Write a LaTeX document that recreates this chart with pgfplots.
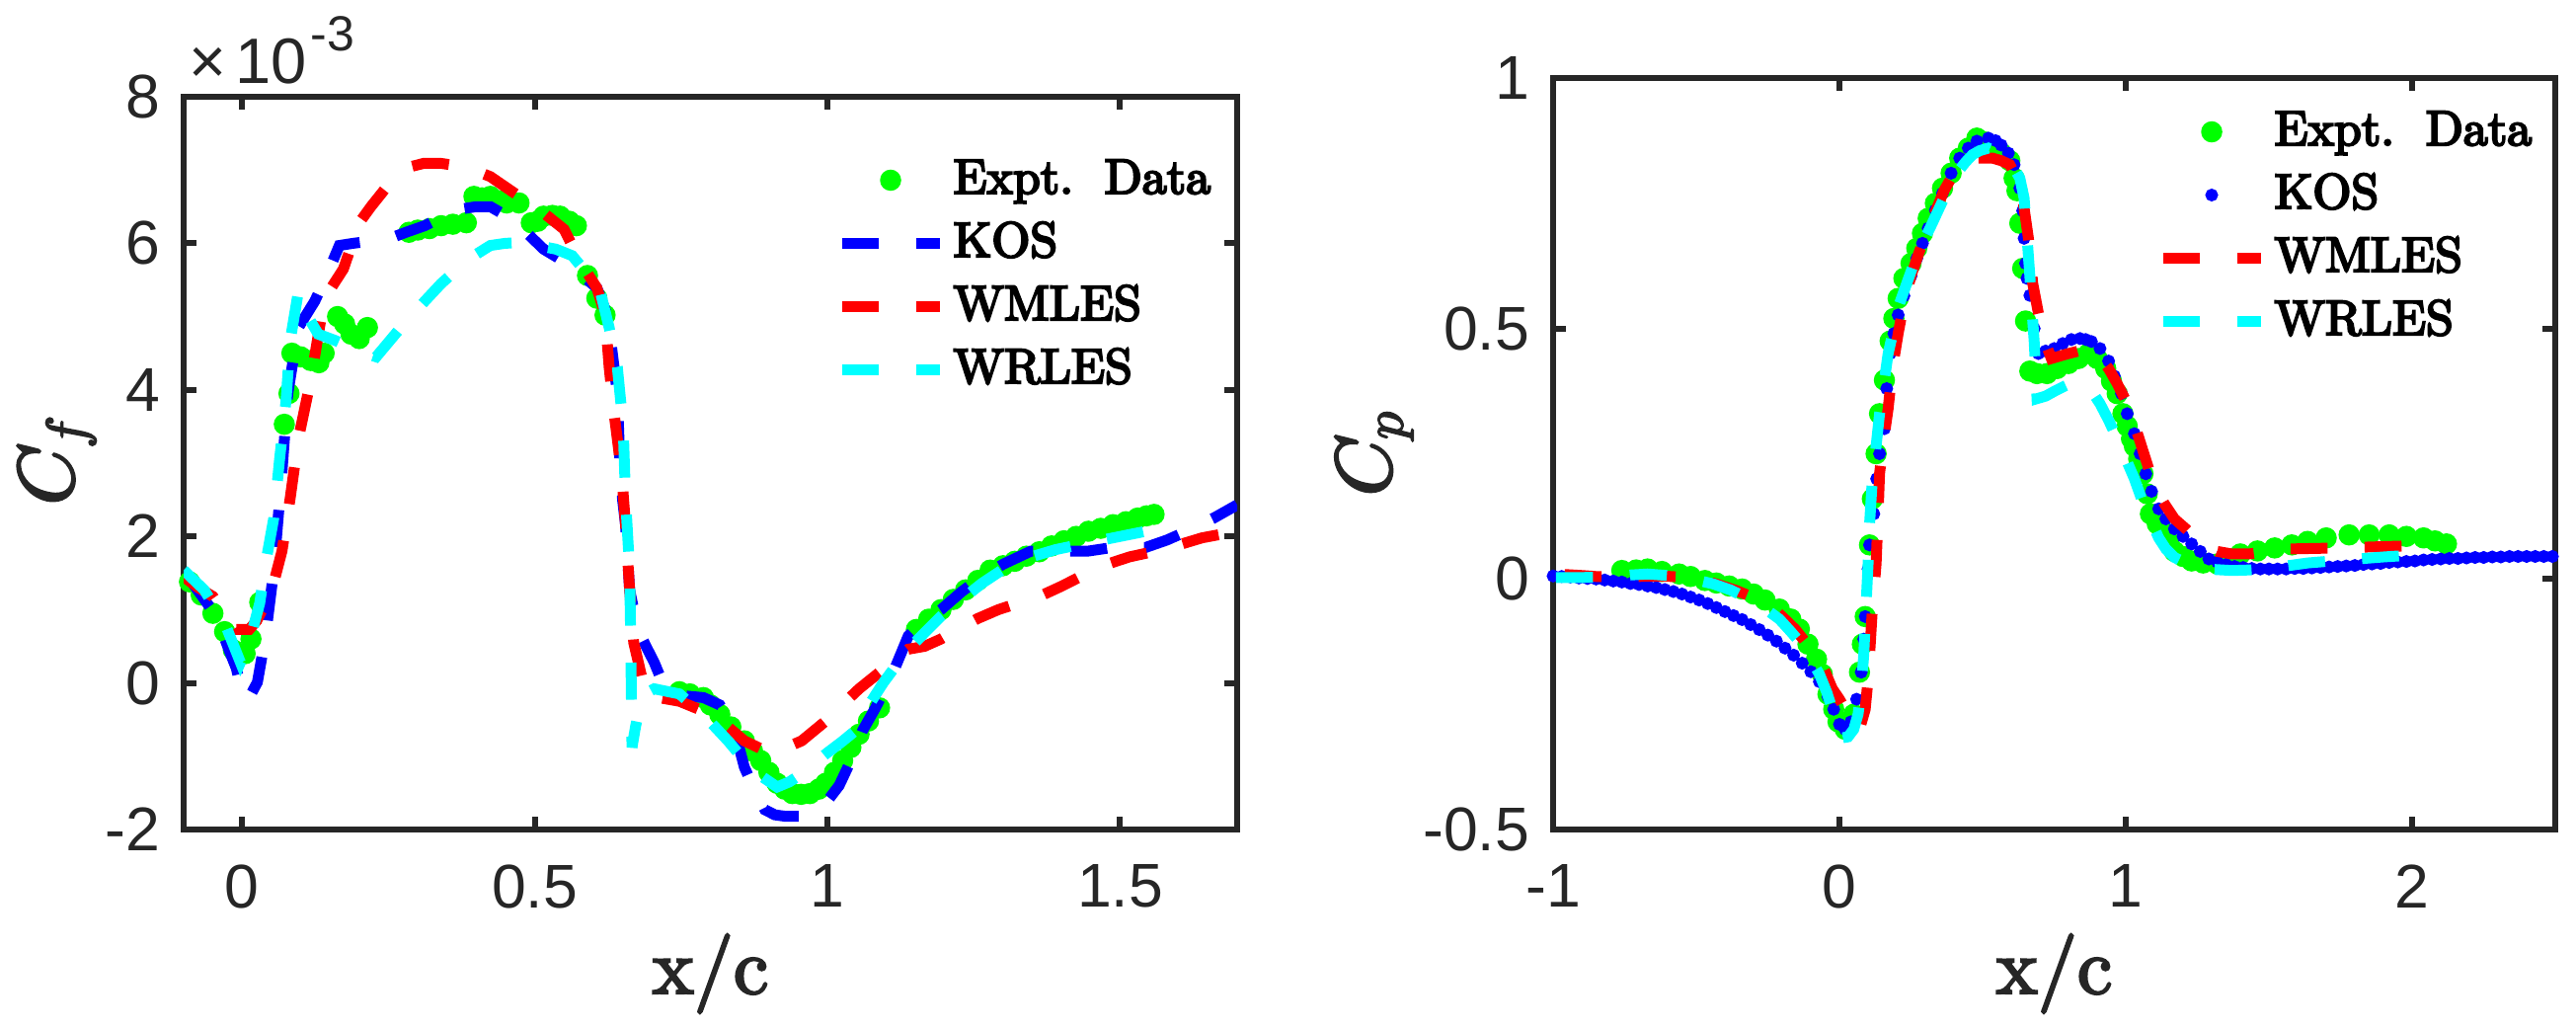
\documentclass[border=0pt]{standalone}
\usepackage{pgfplots}
\pgfplotsset{compat=1.18}
\usepackage{fontspec}
\newfontfamily\helv{Liberation Sans}
\newfontfamily\lmten{lmroman10-regular.otf}[FakeBold=3]
\newfontfamily\lmleg{lmroman10-regular.otf}[FakeBold=4.5]
\newfontfamily\lmmath{latinmodern-math.otf}[FakeBold=3]
\definecolor{axgray}{RGB}{38,38,38}
\definecolor{mgreen}{RGB}{0,255,0}
\definecolor{mblue}{RGB}{0,0,255}
\definecolor{mred}{RGB}{255,0,0}
\definecolor{mcyan}{RGB}{0,255,255}
\pgfplotsset{
 mystyle/.style={
  scale only axis, anchor=south west, clip mode=individual,
  axis line style={axgray, line width=1.2pt},
  tick style={axgray, line width=1.2pt},
  major tick length=2.6pt, tick align=inside,
  tick label style={font=\helv\fontsize{12.5}{14}\selectfont, text=axgray},
  /pgf/number format/assume math mode=true,
  xticklabel style={inner sep=0pt, anchor=north, yshift=-7pt},
  yticklabel style={inner sep=0pt, anchor=east, xshift=-4.6pt},
  label style={font=\lmten\fontsize{16}{18}\selectfont, text=axgray},
  legend style={draw=none, fill=none, inner sep=0pt, outer sep=0pt, row sep=0pt, anchor=north west,
    font=\lmleg\fontsize{10}{12}\selectfont,
    nodes={inner sep=0pt, text height=9.1pt, text depth=3.7pt, font=\lmleg\fontsize{10}{12}\selectfont},
    /tikz/every odd column/.append style={column sep=1.7pt}},
  legend cell align=left,
  legend image code/.code={\path (0pt,0pt) (19.8pt,0pt); \draw[mark repeat=2, mark phase=2, ##1] plot coordinates {(0pt,0pt) (9.9pt,0pt) (19.8pt,0pt)};},
 },
 dline/.style={line width=2.2pt, dash pattern=on 7.5pt off 7.5pt, mark=none},
 expt/.style={only marks, mark=*, mark size=1.95pt, mgreen, mark options={draw=mgreen, fill=mgreen}},
}
\newcommand\mysub[2]{{\lmmath #1}\raisebox{-2.4pt}{\lmmath\fontsize{11.2}{12}\selectfont #2}}
\begin{document}
\begin{tikzpicture}
%%%%%%%%%%%%%%%% LEFT: Cf
\begin{axis}[mystyle, at={(37.2pt,40.2pt)}, width=213.4pt, height=148.4pt,
  xmin=-0.1, xmax=1.7, ymin=-2, ymax=8,
  xtick={0,0.5,1,1.5}, ytick={-2,0,2,4,6,8},
  xlabel={x/c}, ylabel={\mysub{𝐶}{𝑓}},
  x label style={at={(axis description cs:0.5,-0.22372)}, anchor=base},
  y label style={at={(axis description cs:-0.10497,0.5)}, anchor=base},
  legend style={at={(axis description cs:0.6195,0.9292)}},
]
\addplot[expt] coordinates {
(-0.09,1.38) (-0.07,1.2) (-0.05,0.95) (-0.03,0.7) (-0.015,0.45) (-0.005,0.37) (0.005,0.4) (0.015,0.6) (0.03,1.1)
(0.072,3.53) (0.08,3.95) (0.085,4.5) (0.1,4.45) (0.117,4.4) (0.131,4.37) (0.14,4.5) (0.163,5.0) (0.175,4.9) (0.186,4.76) (0.2,4.7) (0.214,4.85)
(0.285,6.15) (0.3,6.18) (0.32,6.2) (0.34,6.24) (0.36,6.26) (0.383,6.28) (0.396,6.64) (0.41,6.62) (0.424,6.64) (0.44,6.58) (0.452,6.55) (0.473,6.55) (0.494,6.28) (0.505,6.3) (0.515,6.37) (0.53,6.38) (0.543,6.37) (0.559,6.3) (0.571,6.24) (0.59,5.56) (0.606,5.25) (0.62,5.02)
(0.747,-0.12) (0.765,-0.15) (0.788,-0.2) (0.8,-0.3) (0.816,-0.43) (0.835,-0.6) (0.858,-0.79) (0.872,-0.93) (0.886,-1.06) (0.9,-1.22) (0.914,-1.37) (0.927,-1.45) (0.94,-1.51) (0.955,-1.52) (0.97,-1.51) (0.985,-1.45) (0.997,-1.37) (1.012,-1.22) (1.026,-1.06) (1.04,-0.88) (1.054,-0.70) (1.07,-0.52) (1.089,-0.34)
(1.152,0.73) (1.173,0.87) (1.194,1.0) (1.215,1.14) (1.236,1.27) (1.257,1.4) (1.278,1.54) (1.3,1.6) (1.32,1.66) (1.34,1.73) (1.362,1.79) (1.383,1.87) (1.404,1.94) (1.425,2.0) (1.446,2.07) (1.467,2.11) (1.488,2.16) (1.51,2.2) (1.53,2.25) (1.545,2.28) (1.558,2.3)
};
\addlegendentry{Expt.\hspace{6.3pt}Data}
\addplot[dline, mblue] coordinates {
(-0.093,1.45) (-0.07,1.2) (-0.044,0.91) (-0.023,0.46) (-0.01,0.2) (0.002,-0.22) (0.012,-0.2) (0.026,0.01) (0.04,0.64) (0.054,1.54) (0.068,2.88) (0.078,3.95) (0.096,4.85) (0.124,5.21) (0.145,5.57) (0.166,5.97) (0.19,6.0) (0.22,6.03) (0.25,6.06) (0.28,6.15) (0.312,6.24) (0.34,6.35) (0.368,6.46) (0.4,6.5) (0.424,6.5) (0.45,6.38) (0.48,6.19) (0.515,5.92) (0.54,5.8) (0.564,5.65) (0.59,5.5) (0.606,5.39) (0.62,5.1) (0.627,4.85) (0.634,4.4) (0.641,3.95) (0.645,3.06) (0.65,2.5) (0.655,2.16) (0.662,1.27) (0.676,0.73) (0.69,0.5) (0.704,0.28) (0.718,0.01) (0.747,-0.17) (0.788,-0.2) (0.816,-0.3) (0.84,-0.6) (0.858,-1.15) (0.875,-1.45) (0.893,-1.73) (0.91,-1.8) (0.928,-1.82) (0.956,-1.82) (0.98,-1.75) (0.997,-1.64) (1.02,-1.4) (1.04,-1.06) (1.06,-0.65) (1.082,-0.34) (1.11,0.1) (1.138,0.64) (1.165,0.85) (1.194,1.0) (1.23,1.25) (1.264,1.45) (1.3,1.62) (1.348,1.8) (1.4,1.8) (1.446,1.8) (1.488,1.85) (1.544,1.85) (1.58,1.95) (1.614,2.07) (1.66,2.25) (1.7,2.43)
};
\addlegendentry{KOS}
\addplot[dline, mred] coordinates {
(-0.1,1.45) (-0.075,1.3) (-0.05,1.18) (-0.03,0.95) (-0.01,0.73) (0.012,0.73) (0.025,0.85) (0.04,1.09) (0.055,1.4) (0.068,1.8) (0.082,2.52) (0.096,3.33) (0.117,4.13) (0.134,4.94) (0.152,5.39) (0.173,5.65) (0.2,6.28) (0.22,6.5) (0.243,6.73) (0.265,6.9) (0.285,7.04) (0.31,7.09) (0.34,7.09) (0.383,7.04) (0.424,6.91) (0.466,6.68) (0.508,6.46) (0.55,6.19) (0.578,5.74) (0.606,5.39) (0.62,5.03) (0.627,4.31) (0.634,3.77) (0.648,2.88) (0.655,2.16) (0.662,1.27) (0.669,0.55) (0.69,-0.17) (0.747,-0.25) (0.802,-0.43) (0.83,-0.6) (0.858,-0.79) (0.9,-0.95) (0.93,-0.88) (0.956,-0.79) (0.997,-0.52) (1.025,-0.3) (1.054,-0.08) (1.096,0.19) (1.138,0.46) (1.166,0.5) (1.194,0.6) (1.222,0.73) (1.257,0.88) (1.292,1.0) (1.33,1.1) (1.362,1.18) (1.4,1.32) (1.432,1.45) (1.47,1.6) (1.516,1.72) (1.55,1.78) (1.586,1.85) (1.64,1.98) (1.7,2.07)
};
\addlegendentry{WMLES}
\addplot[dline, mcyan] coordinates {
(-0.1,1.54) (-0.065,1.27) (-0.03,0.82) (-0.003,0.28) (0.012,0.55) (0.03,1.09) (0.04,1.63) (0.054,2.25) (0.064,3.06) (0.075,3.86) (0.082,4.67) (0.096,5.34) (0.11,5.03) (0.13,4.76) (0.16,4.67) (0.186,4.58) (0.21,4.5) (0.229,4.45) (0.25,4.65) (0.271,4.85) (0.312,5.21) (0.34,5.45) (0.368,5.65) (0.4,5.85) (0.424,5.97) (0.45,6.0) (0.48,6.01) (0.51,5.96) (0.536,5.92) (0.564,5.83) (0.592,5.56) (0.613,5.3) (0.627,4.85) (0.641,4.31) (0.651,3.5) (0.655,2.52) (0.662,1.54) (0.664,0.5) (0.666,-0.88) (0.672,-0.6) (0.683,-0.17) (0.704,-0.08) (0.747,-0.15) (0.788,-0.43) (0.83,-0.79) (0.872,-1.19) (0.914,-1.42) (0.935,-1.35) (0.956,-1.24) (0.997,-0.97) (1.025,-0.8) (1.054,-0.61) (1.075,-0.25) (1.096,0.01) (1.138,0.46) (1.194,0.91) (1.264,1.36) (1.3,1.55) (1.348,1.72) (1.39,1.82) (1.432,1.89) (1.488,1.98) (1.544,2.07) (1.6,2.12)
};
\addlegendentry{WRLES}
\node[anchor=base west, inner sep=0pt, text=axgray, font=\helv\fontsize{13}{14}\selectfont] at (axis description cs:0.004,1.0175) {×\hspace{1.8pt}10\hspace{0.8pt}\raisebox{6.6pt}{\fontsize{10}{10}\selectfont -3}};
\end{axis}
%%%%%%%%%%%%%%%% RIGHT: Cp
\begin{axis}[mystyle, at={(314.6pt,40.2pt)}, width=203pt, height=152.2pt,
  xmin=-1, xmax=2.5, ymin=-0.5, ymax=1,
  xtick={-1,0,1,2}, ytick={-0.5,0,0.5,1},
  xlabel={x/c}, ylabel={\mysub{𝐶}{𝑝}},
  x label style={at={(axis description cs:0.5,-0.21813)}, anchor=base},
  y label style={at={(axis description cs:-0.16207,0.5)}, anchor=base},
  legend style={at={(axis description cs:0.603,0.9704)}},
]
\addplot[expt] coordinates {
(-0.76,0.017) (-0.71,0.018) (-0.67,0.02) (-0.62,0.015) (-0.56,0.01) (-0.52,0.005) (-0.47,-0.003) (-0.43,-0.008) (-0.385,-0.014) (-0.34,-0.02) (-0.30,-0.03) (-0.26,-0.042) (-0.21,-0.06) (-0.17,-0.08) (-0.14,-0.10) (-0.11,-0.13) (-0.08,-0.16) (-0.06,-0.19) (-0.04,-0.23) (-0.02,-0.26) (-0.005,-0.285) (0.02,-0.3) (0.05,-0.27) (0.07,-0.186) (0.08,-0.13) (0.09,-0.075) (0.105,0.068) (0.115,0.16) (0.128,0.25) (0.14,0.33) (0.157,0.397) (0.177,0.475) (0.19,0.52) (0.205,0.56) (0.225,0.6) (0.25,0.63) (0.27,0.66) (0.29,0.69) (0.31,0.72) (0.335,0.75) (0.36,0.78) (0.39,0.81) (0.42,0.84) (0.45,0.86) (0.48,0.88) (0.51,0.872) (0.535,0.86) (0.565,0.85) (0.595,0.835) (0.61,0.8) (0.62,0.775) (0.63,0.71) (0.64,0.62) (0.65,0.515) (0.665,0.415) (0.69,0.41) (0.725,0.41) (0.76,0.42) (0.8,0.43) (0.835,0.44) (0.87,0.45) (0.9,0.44) (0.93,0.42) (0.95,0.395) (0.97,0.37) (0.99,0.33) (1.005,0.305) (1.02,0.28) (1.03,0.265) (1.045,0.24) (1.06,0.21) (1.075,0.17) (1.086,0.13) (1.11,0.11) (1.13,0.095) (1.15,0.075) (1.17,0.055) (1.2,0.045) (1.23,0.036) (1.27,0.032) (1.32,0.03) (1.36,0.04) (1.40,0.05) (1.46,0.056) (1.52,0.062) (1.58,0.068) (1.635,0.075) (1.7,0.082) (1.78,0.088) (1.85,0.088) (1.92,0.088) (1.98,0.085) (2.04,0.082) (2.08,0.076) (2.12,0.07)
};
\addlegendentry{Expt.\hspace{6.3pt}Data}
\addplot[only marks, mark=*, mark size=1.1pt, mblue, mark options={draw=mblue, fill=mblue}] coordinates {
(-1.0,0.006) (-0.97,0.005) (-0.94,0.004) (-0.91,0.002) (-0.88,0.001) (-0.85,0.0) (-0.82,-0.002) (-0.79,-0.004) (-0.76,-0.006) (-0.73,-0.009) (-0.7,-0.011) (-0.67,-0.014) (-0.64,-0.017) (-0.61,-0.021) (-0.58,-0.025) (-0.55,-0.03) (-0.52,-0.036) (-0.49,-0.042) (-0.46,-0.049) (-0.43,-0.057) (-0.4,-0.065) (-0.37,-0.073) (-0.34,-0.081) (-0.31,-0.091) (-0.28,-0.101) (-0.25,-0.112) (-0.22,-0.124) (-0.19,-0.138) (-0.16,-0.152) (-0.13,-0.168) (-0.1,-0.185) (-0.07,-0.205) (-0.04,-0.235) (-0.02,-0.26) (0.0,-0.29) (0.02,-0.3) (0.04,-0.285) (0.06,-0.24) (0.076,-0.186) (0.085,-0.12) (0.09,-0.075) (0.1,0.02) (0.105,0.068) (0.12,0.13) (0.13,0.2) (0.14,0.25) (0.157,0.3) (0.165,0.38) (0.177,0.45) (0.19,0.49) (0.205,0.527) (0.225,0.565) (0.25,0.605) (0.27,0.64) (0.29,0.67) (0.31,0.70) (0.335,0.736) (0.36,0.77) (0.39,0.81) (0.42,0.84) (0.45,0.86) (0.48,0.874) (0.52,0.88) (0.545,0.875) (0.565,0.866) (0.59,0.85) (0.61,0.827) (0.63,0.78) (0.64,0.735) (0.645,0.68) (0.65,0.63) (0.655,0.6) (0.665,0.566) (0.68,0.5) (0.695,0.45) (0.72,0.455) (0.75,0.46) (0.78,0.47) (0.81,0.478) (0.84,0.48) (0.86,0.478) (0.88,0.474) (0.91,0.46) (0.94,0.435) (0.96,0.405) (0.985,0.37) (1.005,0.33) (1.03,0.29) (1.05,0.25) (1.07,0.21) (1.09,0.175) (1.115,0.14) (1.14,0.12) (1.17,0.10) (1.2,0.085) (1.23,0.07) (1.26,0.055) (1.29,0.04) (1.32,0.034) (1.35,0.029) (1.38,0.025) (1.41,0.023) (1.44,0.021) (1.47,0.02) (1.5,0.02) (1.53,0.02) (1.56,0.02) (1.59,0.021) (1.62,0.021) (1.65,0.022) (1.68,0.023) (1.71,0.024) (1.74,0.025) (1.77,0.026) (1.8,0.027) (1.83,0.029) (1.86,0.03) (1.89,0.031) (1.92,0.033) (1.95,0.034) (1.98,0.035) (2.01,0.036) (2.04,0.038) (2.07,0.039) (2.1,0.04) (2.13,0.041) (2.16,0.041) (2.19,0.042) (2.22,0.043) (2.25,0.043) (2.28,0.044) (2.31,0.044) (2.34,0.045) (2.37,0.045) (2.4,0.045) (2.43,0.045) (2.46,0.045) (2.49,0.045)
};
\addlegendentry{KOS}
\addplot[dline, mred] coordinates {
(-0.96,0.009) (-0.9,0.007) (-0.85,0.005) (-0.79,0.004) (-0.7,0.005) (-0.62,0.006) (-0.56,0.004) (-0.5,0.001) (-0.43,-0.01) (-0.36,-0.023) (-0.3,-0.037) (-0.24,-0.055) (-0.2,-0.075) (-0.155,-0.10) (-0.12,-0.125) (-0.08,-0.15) (-0.05,-0.185) (-0.025,-0.219) (0.0,-0.24) (0.02,-0.26) (0.04,-0.285) (0.06,-0.30) (0.075,-0.29) (0.09,-0.26) (0.1,-0.2) (0.105,-0.155) (0.115,-0.06) (0.128,0.03) (0.135,0.13) (0.14,0.21) (0.155,0.28) (0.17,0.34) (0.185,0.42) (0.205,0.49) (0.225,0.55) (0.25,0.605) (0.28,0.655) (0.31,0.70) (0.34,0.74) (0.365,0.775) (0.39,0.80) (0.42,0.82) (0.45,0.832) (0.48,0.84) (0.535,0.84) (0.565,0.835) (0.595,0.827) (0.62,0.8) (0.64,0.76) (0.66,0.68) (0.675,0.59) (0.695,0.53) (0.72,0.47) (0.74,0.44) (0.77,0.445) (0.8,0.45) (0.835,0.455) (0.87,0.46) (0.9,0.45) (0.94,0.42) (0.97,0.39) (1.0,0.356) (1.03,0.31) (1.055,0.265) (1.08,0.22) (1.1,0.186) (1.135,0.15) (1.17,0.12) (1.21,0.1) (1.245,0.08) (1.28,0.065) (1.32,0.055) (1.37,0.05) (1.43,0.05) (1.5,0.055) (1.575,0.06) (1.66,0.061) (1.75,0.062) (1.86,0.064) (1.98,0.066)
};
\addlegendentry{WMLES}
\addplot[dline, mcyan] coordinates {
(-0.99,0.003) (-0.9,0.003) (-0.79,0.004) (-0.73,0.008) (-0.67,0.01) (-0.6,0.007) (-0.56,0.004) (-0.5,-0.002) (-0.44,-0.01) (-0.38,-0.022) (-0.33,-0.036) (-0.27,-0.055) (-0.21,-0.08) (-0.17,-0.105) (-0.125,-0.135) (-0.1,-0.16) (-0.07,-0.19) (-0.045,-0.225) (-0.025,-0.26) (-0.005,-0.295) (0.01,-0.317) (0.03,-0.315) (0.05,-0.30) (0.065,-0.27) (0.076,-0.22) (0.085,-0.15) (0.09,-0.088) (0.1,0.03) (0.105,0.108) (0.115,0.2) (0.128,0.265) (0.14,0.33) (0.157,0.397) (0.17,0.45) (0.19,0.5) (0.21,0.55) (0.235,0.59) (0.26,0.63) (0.29,0.67) (0.32,0.705) (0.35,0.742) (0.38,0.778) (0.41,0.81) (0.44,0.832) (0.465,0.847) (0.49,0.855) (0.52,0.86) (0.55,0.853) (0.58,0.84) (0.61,0.82) (0.63,0.80) (0.645,0.76) (0.65,0.72) (0.658,0.66) (0.665,0.605) (0.672,0.54) (0.68,0.475) (0.685,0.42) (0.69,0.36) (0.72,0.365) (0.755,0.376) (0.79,0.386) (0.825,0.395) (0.85,0.39) (0.88,0.376) (0.91,0.35) (0.94,0.317) (0.97,0.28) (1.0,0.24) (1.03,0.2) (1.055,0.16) (1.085,0.12) (1.115,0.082) (1.14,0.06) (1.17,0.043) (1.21,0.032) (1.26,0.023) (1.31,0.019) (1.37,0.017) (1.43,0.018) (1.49,0.02) (1.56,0.026) (1.635,0.032) (1.72,0.036) (1.81,0.04) (1.9,0.044) (1.98,0.047)
};
\addlegendentry{WRLES}
\end{axis}
\pgfresetboundingbox
\path[use as bounding box] (0,0) rectangle (521.8pt,208.2pt);
\end{tikzpicture}
\end{document}
